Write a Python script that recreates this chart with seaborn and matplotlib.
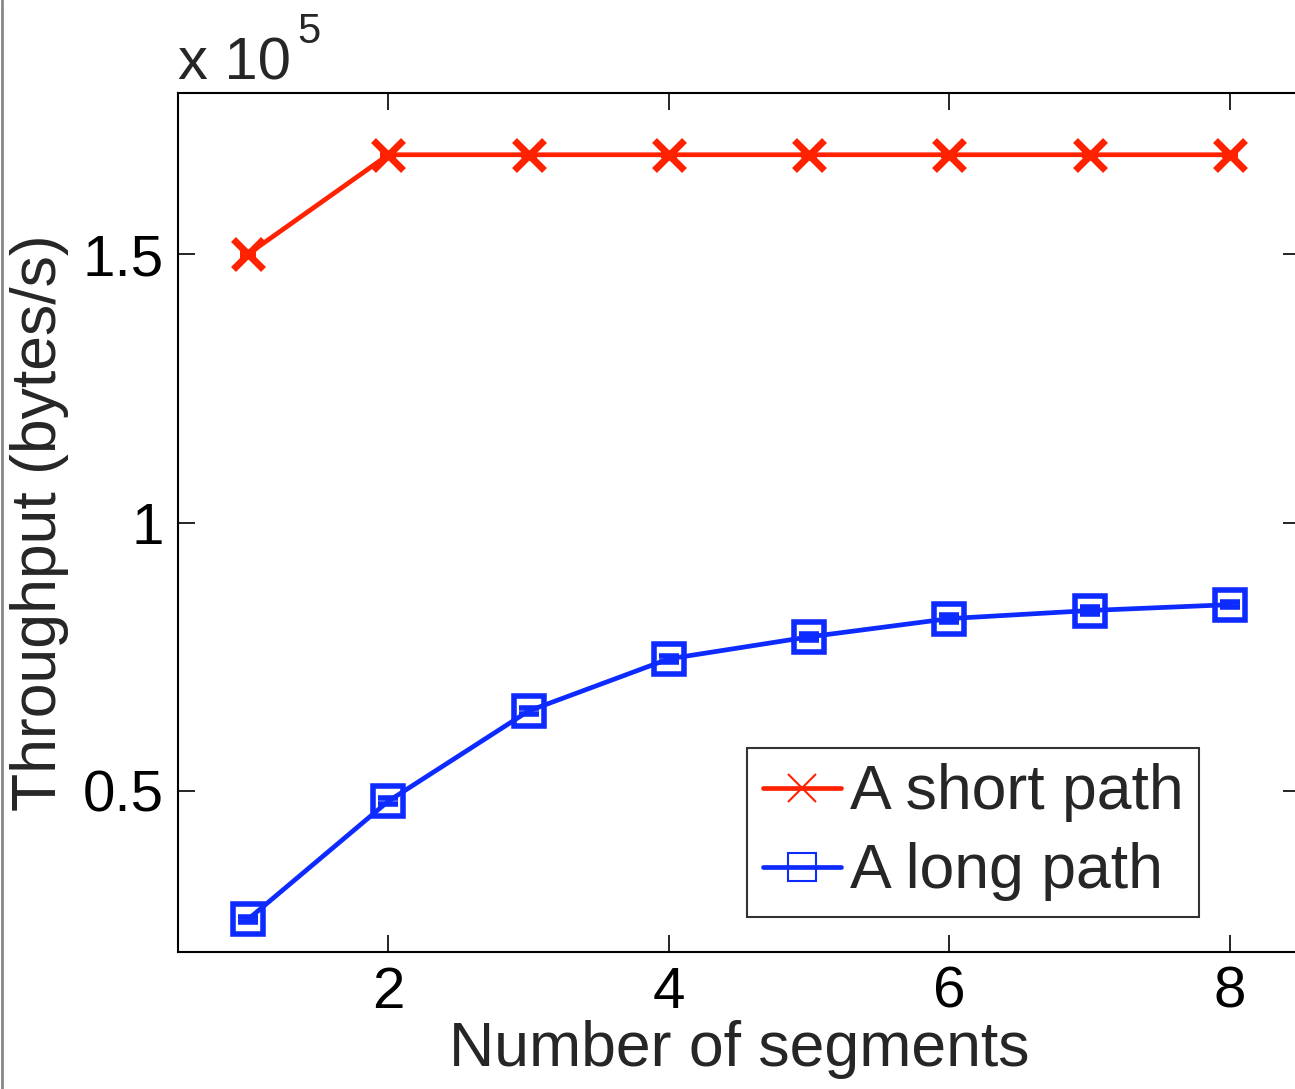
import matplotlib
matplotlib.use("Agg")
import matplotlib.pyplot as plt
import seaborn as sns
import pandas as pd
import numpy as np
from matplotlib.lines import Line2D

segments = [1, 2, 3, 4, 5, 6, 7, 8]
short_path = [1.50, 1.685, 1.685, 1.685, 1.685, 1.685, 1.685, 1.685]
long_path = [0.261, 0.481, 0.649, 0.746, 0.787, 0.821, 0.836, 0.847]
short_err = [0.004, 0.002, 0.002, 0.002, 0.002, 0.002, 0.002, 0.002]
long_err = [0.005, 0.005, 0.006, 0.006, 0.006, 0.006, 0.006, 0.005]
x_ticks = [2, 4, 6, 8]
y_ticks = [0.5, 1.0, 1.5]
y_tick_labels = ["0.5", "1", "1.5"]

sns.set_style("ticks")
plt.rcParams['font.family'] = ['Liberation Sans', 'DejaVu Sans']

red = "#ff2200"
blue = "#0d2bff"

fig = plt.figure(figsize=(12.95, 10.89), dpi=100)
ax = fig.add_axes([178/1295, 1-952/1089, (1300-178)/1295, (952-93)/1089])

df = pd.DataFrame({"seg": segments, "short": short_path, "long": long_path})

ax.errorbar(segments, short_path, yerr=short_err, fmt='none', ecolor=red,
            elinewidth=2, capsize=6, capthick=3, zorder=2)
ax.errorbar(segments, long_path, yerr=long_err, fmt='none', ecolor=blue,
            elinewidth=2, capsize=7, capthick=4, zorder=2)

sns.lineplot(data=df, x="seg", y="short", ax=ax, color=red, linewidth=3.4,
             marker='x', markersize=21, markeredgewidth=5,
             markeredgecolor=red, label="A short path", zorder=3)
sns.lineplot(data=df, x="seg", y="long", ax=ax, color=blue, linewidth=3.4,
             marker='s', markersize=22, markeredgewidth=4,
             markerfacecolor='none', markeredgecolor=blue,
             label="A long path", zorder=3)

ax.set_xlim(0.5, 8.5)
ax.set_ylim(0.2, 1.8)
ax.set_xticks(x_ticks)
ax.set_xticklabels([str(t) for t in x_ticks])
ax.set_yticks(y_ticks)
ax.set_yticklabels(y_tick_labels)
ax.tick_params(direction='in', length=12, width=1.2, labelsize=42,
               top=True, right=True, pad=10, colors='black')
for s in ax.spines.values():
    s.set_linewidth(1.5)
    s.set_color('black')

ax.set_xlabel("Number of segments", fontsize=45, labelpad=0)
ax.set_ylabel("Throughput (bytes/s)", fontsize=45, labelpad=10)

fig.text(178/1295, 1-80/1089, "x 10", fontsize=43, ha='left', va='baseline')
fig.text(297/1295, 1-43/1089, "5", fontsize=30, ha='left', va='baseline')

handles = [Line2D([], [], color=red, linewidth=3.4, marker='x', markersize=20,
                  markeredgewidth=1.5),
           Line2D([], [], color=blue, linewidth=3.4, marker='s', markersize=20,
                  markeredgewidth=1.5, markerfacecolor='none')]
leg = ax.legend(handles, ["A short path", "A long path"], fontsize=45,
                loc='lower left', bbox_to_anchor=((747-178)/1122, (952-917)/859),
                frameon=True, fancybox=False, edgecolor='black',
                borderpad=0.25, labelspacing=0.32, handlelength=1.25,
                handletextpad=0.15, borderaxespad=0)
leg.get_frame().set_linewidth(1.5)

fig.add_artist(Line2D([2/1295, 2/1295], [0, 1], color='#888888', linewidth=2,
                      transform=fig.transFigure))

fig.savefig("out.png", dpi=100)
